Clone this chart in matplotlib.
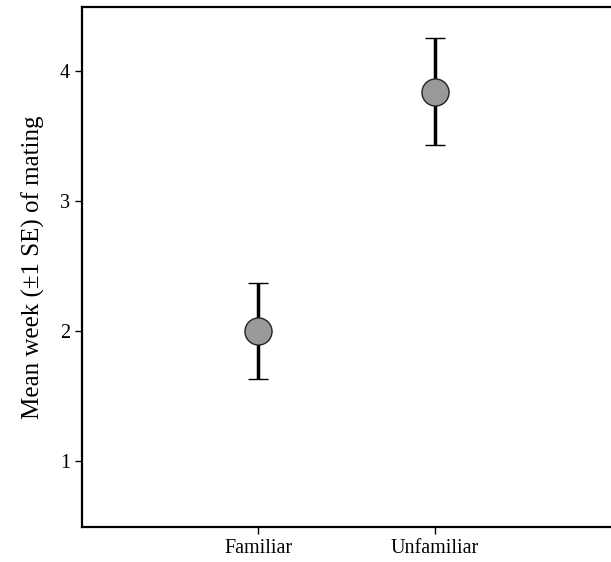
import numpy as np
import matplotlib
matplotlib.use("Agg")
import matplotlib.pyplot as plt

plt.rcParams["font.family"] = ["Liberation Serif", "DejaVu Serif"]

groups = ["Familiar", "Unfamiliar"]
mean_week = [2.0, 3.84]
se_week = [0.37, 0.41]

fig = plt.figure(figsize=(6.11, 5.62), dpi=100)
ax = fig.add_axes([0.134, 0.0623, 0.866, 0.9252])

x = np.arange(1, len(groups) + 1)
ax.errorbar(x, mean_week, yerr=se_week, fmt="o", color="black", ecolor="black",
            elinewidth=2.5, capsize=7.5, capthick=2.8, markersize=19.5,
            markerfacecolor="#999999", markeredgecolor="#222222", markeredgewidth=1.0)

ax.set_xlim(0, 3)
ax.set_ylim(0.49, 4.49)
ax.set_xticks(x, labels=groups)
ax.set_yticks([1, 2, 3, 4])
ax.set_ylabel("Mean week (\u00b11 SE) of mating", fontsize=18, labelpad=11)
ax.tick_params(axis="both", labelsize=14.5, width=1, length=5, direction="out")
ax.spines["right"].set_visible(False)
for s in ["left", "top", "bottom"]:
    ax.spines[s].set_linewidth(1.6)

fig.savefig("out.png", dpi=100)
